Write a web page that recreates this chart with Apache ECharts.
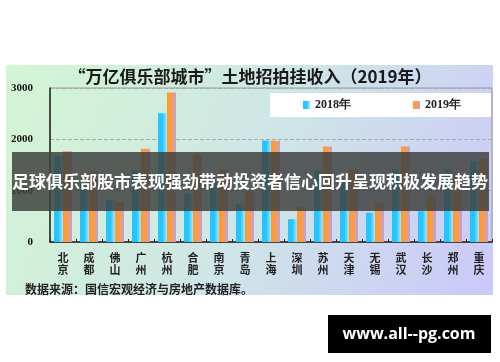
<!DOCTYPE html>
<html><head><meta charset="utf-8">
<script src="https://cdn.jsdelivr.net/npm/echarts@6/dist/echarts.min.js"></script>
<style>html,body{margin:0;padding:0;background:#fff}#c{width:500px;height:362px}</style>
</head><body><div id="c"></div>
<script>
var cities = ['北京','成都','佛山','广州','杭州','合肥','南京','青岛','上海','深圳','苏州','天津','无锡','武汉','长沙','郑州','重庆'];
var v2018 = [1680,1150,820,1400,2510,950,1200,740,1975,445,1390,1150,570,1425,600,1425,1575];
var v2019 = [1770,1385,780,1815,2910,1700,1405,1000,1970,690,1860,1405,755,1860,900,1330,1620];
var yTicks = [0,1000,2000,3000];
var titleText = '“万亿俱乐部城市”土地招拍挂收入（2019年）';
var sourceText = '数据来源：国信宏观经济与房地产数据库。';
var bannerText = '足球俱乐部股市表现强劲带动投资者信心回升呈现积极发展趋势';
var markText = 'www.all--pg.com';

var chart = echarts.init(document.getElementById('c'));
var g2018 = new echarts.graphic.LinearGradient(0,0,1,0,[{offset:0,color:'#29c3ff'},{offset:0.5,color:'#22c8ff'},{offset:1,color:'#a9e4ff'}]);
var g2019 = new echarts.graphic.LinearGradient(0,0,1,0,[{offset:0,color:'#ff9a30'},{offset:0.55,color:'#ff9c45'},{offset:1,color:'#b3a0f2'}]);
chart.setOption({
  animation:false,
  title:{text:titleText,left:'center',top:63,textStyle:{fontSize:17,fontWeight:'bold',color:'#1a1a1a',fontFamily:'Noto Sans CJK SC'}},
  legend:{
    data:['2018年','2019年'],left:270,top:93,
    backgroundColor:'#fff',padding:[6,30,6,33],itemGap:62,
    itemWidth:7,itemHeight:8,icon:'rect',
    textStyle:{fontSize:12,fontWeight:'bold',color:'#222',fontFamily:'Liberation Serif'}
  },
  grid:{left:50,right:8,top:88,bottom:120,show:true,borderColor:'#999',borderWidth:1,backgroundColor:'transparent'},
  xAxis:{type:'category',data:cities,
    axisLine:{lineStyle:{color:'#222',width:1.5}},
    axisTick:{show:true,inside:true,length:3,lineStyle:{color:'#222'}},
    axisLabel:{interval:0,margin:10,fontSize:11,lineHeight:12,fontWeight:'bold',color:'#222',fontFamily:'Noto Sans CJK SC',
      formatter:function(v){return v.split('').join('\n');}}
  },
  yAxis:{type:'value',min:0,max:3000,interval:1000,
    axisLine:{show:true,lineStyle:{color:'#222',width:1.5}},
    axisTick:{show:false},
    splitLine:{lineStyle:{color:'#aaa',type:'dashed'}},
    axisLabel:{margin:17,fontSize:11,fontWeight:'bold',color:'#111',fontFamily:'Liberation Serif',
      formatter:function(v){return yTicks.indexOf(v)>=0?String(v):'';}}
  },
  series:[
    {name:'2018年',type:'bar',data:v2018,barWidth:9,barGap:'0%',itemStyle:{color:g2018}},
    {name:'2019年',type:'bar',data:v2019,barWidth:9,barGap:'0%',itemStyle:{color:g2019}}
  ],
  graphic:[
    {type:'rect',z:-10,silent:true,shape:{x:6,y:65,width:487,height:230},
      style:{fill:new echarts.graphic.LinearGradient(0,0,1,1,[{offset:0,color:'#d3f6d3'},{offset:0.5,color:'#cfe6e6'},{offset:1,color:'#cbc8fa'}])}},
    {type:'text',z:5,left:25,top:283,style:{text:sourceText,fontSize:12,fontWeight:'bold',fill:'#222',fontFamily:'Noto Sans CJK SC'}},
    {type:'rect',z:100,shape:{x:12,y:152,width:477,height:59},style:{fill:'rgba(62,64,62,0.84)'}},
    {type:'text',z:101,x:250,y:182,style:{text:bannerText,fontSize:17,fontWeight:'bold',fill:'#fff',align:'center',verticalAlign:'middle',fontFamily:'Noto Sans CJK SC'}},
    {type:'rect',z:100,shape:{x:328,y:315,width:163,height:38},style:{fill:'#000'}},
    {type:'text',z:101,x:409,y:334,style:{text:markText,fontSize:16,fontWeight:'bold',fill:'#fff',align:'center',verticalAlign:'middle',fontFamily:'Open Sans'}}
  ]
});
</script></body></html>
